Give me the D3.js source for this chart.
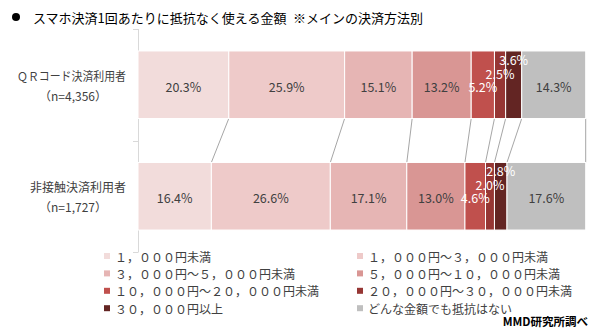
<!DOCTYPE html>
<html><head><meta charset="utf-8">
<script src="https://cdn.jsdelivr.net/npm/d3@7"></script>
<style>
body{margin:0;background:#fff}
svg{display:block}
text{font-family:"Noto Sans CJK JP","Noto Sans",sans-serif}
</style>
</head><body>
<svg id="c" width="600" height="328"></svg>
<script>
const title = "スマホ決済1回あたりに抵抗なく使える金額\u2002※メインの決済方法別";
const categories = ["ＱＲコード決済利用者", "非接触決済利用者"];
const sampleSizes = ["（n=4,356）", "（n=1,727）"];
const seriesNames = [
  "１，０００円未満",
  "１，０００円～３，０００円未満",
  "３，０００円～５，０００円未満",
  "５，０００円～１０，０００円未満",
  "１０，０００円～２０，０００円未満",
  "２０，０００円～３０，０００円未満",
  "３０，０００円以上",
  "どんな金額でも抵抗はない"
];
const qrValues = [20.3, 25.9, 15.1, 13.2, 5.2, 2.5, 3.6, 14.3];
const contactlessValues = [16.4, 26.6, 17.1, 13.0, 4.6, 2.0, 2.8, 17.6];
const source = "MMD研究所調べ";

// styles
const colors = ["#f2dcdb", "#eecac9", "#e6b5b4", "#d99694", "#c0504d", "#963634", "#632523", "#bfbfbf"];
const labelColors = ["#404040", "#404040", "#404040", "#404040", "#ffffff", "#ffffff", "#ffffff", "#404040"];
const labelDy = [0, 0, 0, 0, 0, -13, -27, 0];
const categoryWidths = [109, null];

const rows = [qrValues, contactlessValues];
const svg = d3.select("#c");

// title
svg.append("circle").attr("cx", 16).attr("cy", 17).attr("r", 4).attr("fill", "#000");
svg.append("text").attr("x", 33).attr("y", 17).attr("dominant-baseline", "central")
  .attr("font-size", 13).attr("fill", "#000").text(title);

const total = d3.max(rows, r => d3.sum(r));
const x = d3.scaleLinear().domain([0, total]).range([138, 585.7]);
const y = d3.scaleBand().domain(categories).range([29, 252]).paddingInner(0.394).paddingOuter(0.197);

// axis line + ticks
const axis = svg.append("g").attr("stroke", "#d9d9d9").attr("stroke-width", 1);
axis.append("line").attr("x1", 138.5).attr("x2", 138.5).attr("y1", 29).attr("y2", 252);
[29, (y.range()[0] + y.range()[1]) / 2, 252].forEach(t => {
  axis.append("line").attr("x1", 133).attr("x2", 138.5).attr("y1", Math.round(t) + 0.5).attr("y2", Math.round(t) + 0.5);
});

// connector lines
const cum = rows.map(r => Array.from(d3.cumsum(r)));
const conn = svg.append("g").attr("stroke", "#a6a6a6").attr("stroke-width", 1);
cum[0].forEach((c, i) => {
  conn.append("line")
    .attr("x1", x(c)).attr("y1", y(categories[0]) + y.bandwidth())
    .attr("x2", x(cum[1][i])).attr("y2", y(categories[1]));
});

// bars
rows.forEach((vals, ri) => {
  const g = svg.append("g");
  const starts = [0, ...cum[ri].slice(0, -1)];
  const by = y(categories[ri]);
  g.selectAll("rect").data(vals).join("rect")
    .attr("x", (d, i) => x(starts[i]))
    .attr("y", by)
    .attr("width", (d, i) => x(starts[i] + d) - x(starts[i]))
    .attr("height", y.bandwidth())
    .attr("fill", (d, i) => colors[i])
    .attr("stroke", "#fff").attr("stroke-width", 1);
  g.selectAll("text").data(vals).join("text")
    .attr("x", (d, i) => x(starts[i] + d / 2))
    .attr("y", (d, i) => by + y.bandwidth() / 2 + 1.5 + labelDy[i])
    .attr("text-anchor", "middle").attr("dominant-baseline", "central")
    .attr("font-size", 12.5)
    .attr("fill", (d, i) => labelColors[i])
    .text(d => d.toFixed(1) + "%");
  // category labels
  const cy = by + y.bandwidth() / 2;
  const t = svg.append("text").attr("x", 126).attr("y", cy - 9.5)
    .attr("text-anchor", "end").attr("dominant-baseline", "central")
    .attr("font-size", 12).attr("fill", "#404040").text(categories[ri]);
  if (categoryWidths[ri]) t.attr("textLength", categoryWidths[ri]).attr("lengthAdjust", "spacingAndGlyphs");
  svg.append("text").attr("x", 73).attr("y", cy + 10.5)
    .attr("text-anchor", "middle").attr("dominant-baseline", "central")
    .attr("font-size", 12).attr("fill", "#404040").text(sampleSizes[ri]);
});

// legend
const legend = svg.append("g");
seriesNames.forEach((name, i) => {
  const col = i % 2, row = Math.floor(i / 2);
  const lx = col === 0 ? 104 : 357;
  const ly = 256 + row * 17.4;
  legend.append("rect").attr("x", lx).attr("y", ly - 3).attr("width", 6).attr("height", 6).attr("fill", colors[i]);
  legend.append("text").attr("x", lx + 11).attr("y", ly).attr("dominant-baseline", "central")
    .attr("font-size", 12).attr("fill", "#404040").text(name);
});

svg.append("text").attr("x", 588).attr("y", 321).attr("text-anchor", "end").attr("dominant-baseline", "central")
  .attr("font-size", 11.5).attr("font-weight", "bold").attr("fill", "#000").text(source);
</script>
</body></html>
